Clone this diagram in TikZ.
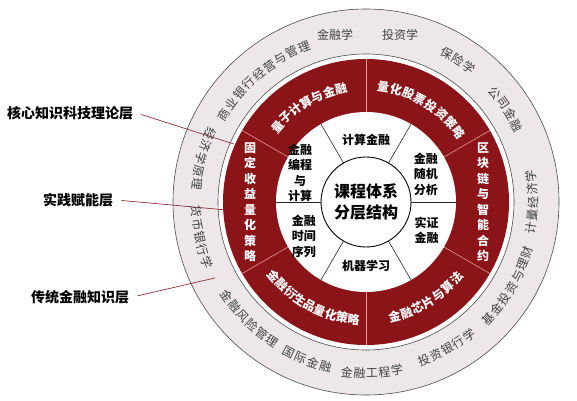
\documentclass[tikz,border=0pt]{standalone}
\usepackage{fontspec}
\setmainfont{Noto Sans CJK SC}
\usetikzlibrary{calc}

\definecolor{ringred}{RGB}{138,20,24}
\definecolor{ringgray}{RGB}{237,231,233}
\definecolor{linered}{RGB}{140,48,58}
\definecolor{splitred}{RGB}{232,150,150}

% one character after another along an arc round (C)
% #1 name, #2 style, #3 radius, #4 middle angle, #5 step, #6 count, #7 characters
\newcommand{\arctext}[7]{%
  \foreach \zi [count=\idx] in {#7} {
    \pgfmathsetmacro{\ang}{#4+(#5)*((#6+1)/2-\idx)}
    \node[#2, rotate=\ang-90*sign(#5)] (#1\idx) at ($(C)+(\ang:#3)$) {\zi};
  }%
}

\begin{document}
\begin{tikzpicture}[x=1pt, y=1pt,
    graytxt/.style={text=black!75, font=\fontsize{12}{12}\selectfont, inner sep=0pt},
    redtxt/.style={text=white, font=\fontsize{12}{12}\selectfont\bfseries, inner sep=0pt},
    redcol/.style={redtxt, align=center, font=\fontsize{12}{15.5}\selectfont\bfseries},
    segtxt/.style={align=center, inner sep=0pt, font=\fontsize{12}{15.5}\selectfont\bfseries},
    layerlabel/.style={font=\fontsize{14}{14}\selectfont\bfseries},
    pointer/.style={draw=linered, line width=0.7pt, shorten <=5pt}]
  \useasboundingbox (0,0) rectangle (577,400);
  \coordinate (C) at (366,198);

  % rings
  \filldraw[fill=ringgray, draw=black!70, line width=0.6pt] (C) circle (193);
  \filldraw[fill=white, draw=black!70, line width=0.6pt] (C) circle (148);
  \fill[ringred] (C) circle (143);
  \fill[white] (C) circle (90);
  \foreach \a in {30,90,...,330}
    \draw[splitred, line width=0.6pt] ($(C)+(\a:90)$) -- ($(C)+(\a:143)$);
  \foreach \a in {0,60,...,300}
    \draw[black!85, line width=0.6pt] ($(C)+(\a:45)$) -- ($(C)+(\a:90)$);

  % layers on the left
  \node[layerlabel] (hx) at (70,287) {核心知识科技理论层};
  \node[layerlabel] (sj) at (78,200) {实践赋能层};
  \node[layerlabel] (ct) at (80,103) {传统金融知识层};
  \coordinate (hxend) at ($(C)+(156.3:144)$);
  \coordinate (sjend) at ($(C)+(183.2:141)$);
  \coordinate (ctend) at ($(C)+(206.7:169)$);
  \draw[pointer] (hx.east) -- (hxend);
  \draw[pointer] (sj.east) -- (sjend);
  \draw[pointer] (ct.east) -- (ctend);

  % centre
  \node[circle, draw, line width=0.9pt, fill=white, minimum size=90pt, inner sep=0pt,
        align=center, font=\fontsize{16}{21}\selectfont\bfseries] (core) at (C) {课程体系\\分层结构};
  \node[segtxt] (jsjr) at ($(C)+(90:62)$) {计算金融};
  \node[segtxt] (sjfx) at ($(C)+(25:66)$) {金融\\随机\\分析};
  \node[segtxt] (szjr) at ($(C)+(-25:67)$) {实证\\金融};
  \node[segtxt] (jqxx) at ($(C)+(-90:64)$) {机器学习};
  \node[segtxt] (sjxl) at ($(C)+(209:71)$) {金融\\时间\\序列};
  \node[segtxt] (bcjs) at ($(C)+(156:72)$) {金融\\编程\\与\\计算};

  % red ring
  \arctext{lz}{redtxt}{116}{121}{6.2}{7}{量,子,计,算,与,金,融}
  \arctext{lh}{redtxt}{116}{59}{6.4}{8}{量,化,股,票,投,资,策,略}
  \arctext{ys}{redtxt}{118}{241.5}{-5.6}{9}{金,融,衍,生,品,量,化,策,略}
  \arctext{xp}{redtxt}{118}{-58}{-6}{7}{金,融,芯,片,与,算,法}
  \node[redcol] (gdsy) at ($(C)+(180:116)$) {固\\定\\收\\益\\量\\化\\策\\略};
  \node[redcol] (qkl) at ($(C)+(0:117)$) {区\\块\\链\\与\\智\\能\\合\\约};

  % gray ring
  \arctext{sy}{graytxt}{167}{130}{4.6}{9}{商,业,银,行,经,营,与,管,理}
  \node[graytxt] (jrx) at (335,365) {金融学};
  \node[graytxt] (tzx) at (400,365) {投资学};
  \arctext{bxx}{graytxt}{169}{57}{4.4}{3}{保,险,学}
  \arctext{gsjr}{graytxt}{169}{33.5}{4.4}{4}{公,司,金,融}
  \arctext{jljj}{graytxt}{167}{0}{-4.4}{5}{计,量,经,济,学}
  \arctext{jjtz}{graytxt}{169}{-30.5}{-4.4}{7}{基,金,投,资,与,理,财}
  \arctext{tzyh}{graytxt}{168}{-61}{-4.4}{5}{投,资,银,行,学}
  \arctext{jrgc}{graytxt}{171}{-88}{-4.2}{5}{金,融,工,程,学}
  \arctext{gjjr}{graytxt}{169}{-110.5}{-4.4}{4}{国,际,金,融}
  \arctext{fxgl}{graytxt}{168}{-135}{-4.4}{6}{金,融,风,险,管,理}
  \arctext{hbyh}{graytxt}{170}{192}{-4.4}{5}{货,币,银,行,学}
  \arctext{jjxy}{graytxt}{170}{165}{-4.4}{5}{经,济,学,原,理}
\end{tikzpicture}
\end{document}
